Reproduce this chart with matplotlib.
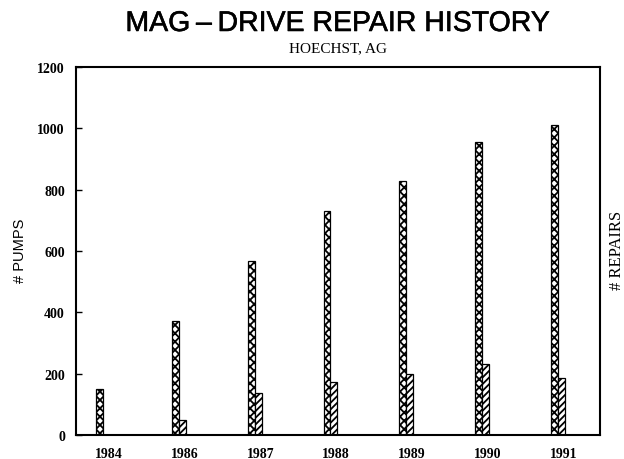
import numpy as np
import matplotlib.pyplot as plt
import matplotlib.patheffects as pe

years = ['1984', '1986', '1987', '1988', '1989', '1990', '1991']
pumps = [150, 372, 567, 730, 828, 955, 1011]
repairs = [0, 49, 137, 173, 199, 231, 186]

plt.rcParams['hatch.linewidth'] = 1.3

fig = plt.figure(figsize=(6.24, 4.6), dpi=100)
ax = fig.add_axes([76/624, 24/460, 524/624, 368/460])

x = np.arange(len(years))
w = 0.092
ax.bar(x - w/2, pumps, w, color='white', edgecolor='black', hatch='xxxx', linewidth=0.9)
ax.bar(x + w/2, repairs, w, color='white', edgecolor='black', hatch='/////', linewidth=0.9)

ax.set_xlim(-0.356, 6.554)
ax.set_ylim(0, 1200)
ax.set_yticks(range(0, 1201, 200))
# year labels sit a little to the right of each bar pair
ax.set_xticks(x + 0.075)
ax.set_xticklabels(years, family='Liberation Serif', fontsize=10, fontweight='bold')
for t in ax.get_yticklabels():
    t.set_family('Liberation Serif')
    t.set_fontsize(10)
    t.set_fontweight('bold')
ax.tick_params(axis='y', direction='in', length=4, width=1, pad=8)
ax.tick_params(axis='x', length=0, pad=8.5)
for s in ax.spines.values():
    s.set_linewidth(1.5)

fig.text(20/624, 1 - 251/460, '# PUMPS', rotation=90, ha='center', va='center',
         family='Liberation Sans', fontsize=10.5)
fig.text(617/624, 1 - 250/460, '# REPAIRS', rotation=90, ha='center', va='center',
         family='Liberation Serif', fontsize=12)

fig.text(338/624, 1 - 25/460, 'MAG\u2009\u2013\u2009DRIVE REPAIR HISTORY', ha='center', va='center',
         family='Liberation Sans', fontsize=20.5,
         path_effects=[pe.withStroke(linewidth=0.4, foreground='black')])
fig.text(338/624, 1 - 48.5/460, 'HOECHST, AG', ha='center', va='center',
         family='Liberation Serif', fontsize=11)

fig.savefig('out.png', dpi=100)
